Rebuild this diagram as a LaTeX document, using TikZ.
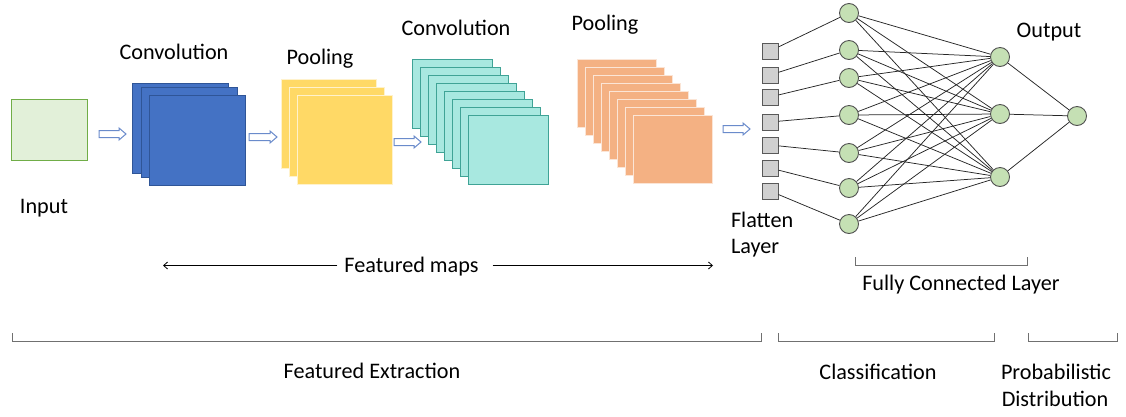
\documentclass[tikz,border=0pt]{standalone}
\usepackage{fontspec}
\setmainfont{Carlito}
\usetikzlibrary{arrows.meta}
\definecolor{inFill}{HTML}{E2F0D9}
\definecolor{inDraw}{HTML}{70AD47}
\definecolor{blFill}{HTML}{4472C4}
\definecolor{blDraw}{HTML}{2F5597}
\definecolor{yeFill}{HTML}{FFD966}
\definecolor{yeDraw}{HTML}{FFF2CC}
\definecolor{teFill}{HTML}{A8E8E0}
\definecolor{teDraw}{HTML}{3FA396}
\definecolor{orFill}{HTML}{F4B183}
\definecolor{orDraw}{HTML}{FBE5D6}
\definecolor{sqFill}{HTML}{D0D0D0}
\definecolor{sqDraw}{HTML}{595959}
\definecolor{ciFill}{HTML}{C5E0B4}
\definecolor{ciDraw}{HTML}{505050}
\definecolor{arDraw}{HTML}{6A8BCB}
\definecolor{brDraw}{HTML}{707070}
\newcommand\hollowarr[3]{%
  \draw[hollow] (#1,#3-3.5) -- (#2-7,#3-3.5) -- (#2-7,#3-6) -- (#2,#3) -- (#2-7,#3+6) -- (#2-7,#3+3.5) -- (#1,#3+3.5) -- cycle;}
\begin{document}
\begin{tikzpicture}[x=1pt,y=-1pt,
  lbl/.style={font=\fontsize{22.2}{26}\selectfont, inner sep=0pt, outer sep=0pt, text=black},
  mapbox/.style={anchor=north west, inner sep=0pt, outer sep=0pt, line width=1pt},
  sqnode/.style={rectangle, minimum size=16, inner sep=0pt, fill=sqFill, draw=sqDraw, line width=1pt},
  neuron/.style={circle, minimum size=19, inner sep=0pt, fill=ciFill, draw=ciDraw, line width=0.9pt},
  conn/.style={draw=black!85, line width=0.75pt},
  hollow/.style={draw=arDraw, fill=white, line width=1pt, line join=miter},
  bracket/.style={draw=brDraw, line width=1pt},
  thinarrow/.style={draw=black, line width=0.8pt, -{Straight Barb[length=4pt,width=7pt]}}
]
\useasboundingbox (0,0) rectangle (1126,416);

% Input
\node[mapbox, fill=inFill, draw=inDraw, minimum width=76, minimum height=61] (inp) at (11,99) {};
\node[lbl, anchor=base] (inpl) at (44,213) {Input};

% Convolution 1 (blue)
\node[mapbox, fill=blFill, draw=blDraw, minimum width=96, minimum height=90] (b1) at (132,83) {};
\node[mapbox, fill=blFill, draw=blDraw, minimum width=96, minimum height=90] (b2) at (141,87) {};
\node[mapbox, fill=blFill, draw=blDraw, minimum width=96, minimum height=90] (b3) at (149,95) {};
\node[lbl, anchor=base] (c1l) at (174,59) {Convolution};

% Pooling 1 (yellow)
\node[mapbox, fill=yeFill, draw=yeDraw, minimum width=95, minimum height=89] (y1) at (281,79) {};
\node[mapbox, fill=yeFill, draw=yeDraw, minimum width=95, minimum height=89] (y2) at (289,87) {};
\node[mapbox, fill=yeFill, draw=yeDraw, minimum width=95, minimum height=89] (y3) at (297,95) {};
\node[lbl, anchor=base] (p1l) at (320,64) {Pooling};

% Convolution 2 (teal)
\foreach \i in {0,...,7}
  \node[mapbox, fill=teFill, draw=teDraw, minimum width=80, minimum height=69] (t\i) at ({412+8*\i},{59+8.14*\i}) {};
\node[lbl, anchor=base] (c2l) at (456,35) {Convolution};

% Pooling 2 (orange)
\foreach \i in {0,...,7}
  \node[mapbox, fill=orFill, draw=orDraw, minimum width=79, minimum height=68] (r\i) at ({577+8.14*\i},{59+8.14*\i}) {};
\node[lbl, anchor=base] (p2l) at (605,30) {Pooling};

% hollow arrows
\hollowarr{99}{126}{134}
\hollowarr{249}{277}{137}
\hollowarr{394}{421}{142}
\hollowarr{723}{750}{129}

% Flatten layer
\foreach \i/\y in {1/51,2/75,3/97,4/122,5/145,6/168,7/191}
  \node[sqnode] (s\i) at (770,\y) {};
\node[lbl, anchor=base west] (fl1) at (731,227) {Flatten};
\node[lbl, anchor=base west] (fl2) at (731,253) {Layer};

% Hidden layer
\foreach \i/\y in {1/13,2/50,3/78,4/115,5/153,6/188,7/224}
  \node[neuron] (h\i) at (849,\y) {};
% Output layer
\foreach \j/\y in {1/57,2/114,3/177}
  \node[neuron] (o\j) at (1000,\y) {};
\node[neuron] (fin) at (1077,116) {};
\node[lbl, anchor=base] (outl) at (1049,37) {Output};

\foreach \i in {1,...,7} {
  \draw[conn] (s\i) -- (h\i);
  \foreach \j in {1,2,3} \draw[conn] (h\i) -- (o\j);
}
\foreach \j in {1,2,3} \draw[conn] (o\j) -- (fin);

% Featured maps
\node[lbl, anchor=base] (fm) at (411.5,272) {Featured maps};
\coordinate (fmL) at (163,265.5);
\coordinate (fmR) at (713,265.5);
\draw[thinarrow] (fm.west |- fmL) ++(-7,0) -- (fmL);
\draw[thinarrow] (fm.east |- fmR) ++(14,0) -- (fmR);

% Fully connected bracket
\draw[bracket] (855,257) -- (855,265) -- (1027,265) -- (1027,257);
\node[lbl, anchor=base] (fcl) at (961,290) {Fully Connected Layer};

% Bottom brackets
\draw[bracket] (12,333) -- (12,341) -- (761,341) -- (761,333);
\draw[bracket] (778,333) -- (778,341) -- (994,341) -- (994,333);
\draw[bracket] (1028,333) -- (1028,341) -- (1117,341) -- (1117,333);
\node[lbl, anchor=base] (fe) at (372,378) {Featured Extraction};
\node[lbl, anchor=base] (cl) at (878,379) {Classification};
\node[lbl, anchor=base] (pd1) at (1056,379) {Probabilistic};
\node[lbl, anchor=base] (pd2) at (1055,406) {Distribution};
\end{tikzpicture}
\end{document}
